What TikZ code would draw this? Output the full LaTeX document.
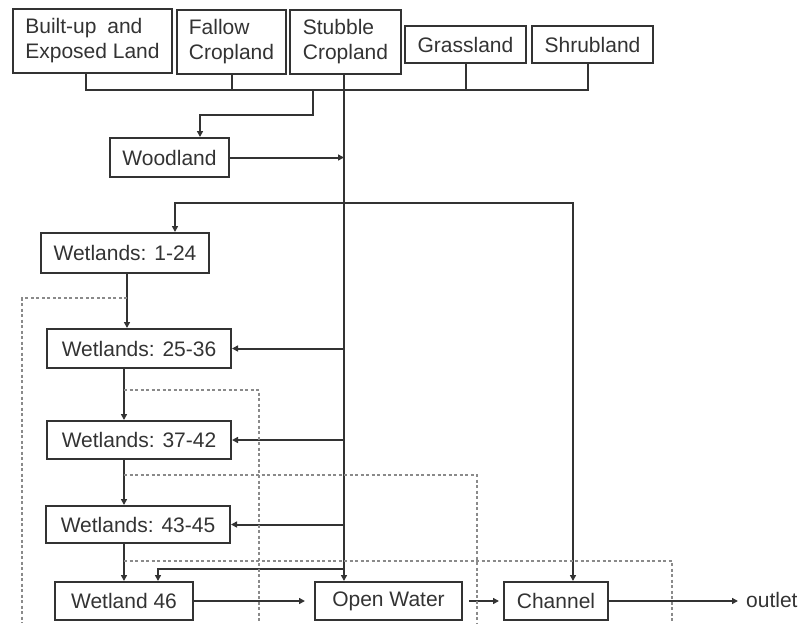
\documentclass[tikz,border=0pt]{standalone}
\usepackage{fontspec}
\setmainfont{Liberation Sans}
\usetikzlibrary{arrows.meta,calc}
\definecolor{ink}{HTML}{333333}
\definecolor{dashgray}{HTML}{8A8A8A}
\begin{document}
\begin{tikzpicture}[x=1pt,y=-1pt,
  box/.style={draw=ink, line width=2pt, text=ink, inner sep=0pt, align=left,
    font=\fontsize{21}{25}\selectfont},
  conn/.style={draw=ink, line width=2pt},
  arr/.style={conn, -{Triangle[length=6pt,width=6pt]}},
  dline/.style={draw=dashgray, line width=1.2pt, dash pattern=on 3pt off 2.5pt}]
\useasboundingbox (0,0) rectangle (801,625);
% nodes
\node[box, minimum width=159pt, minimum height=64pt] (built) at (92.5,41) {Built-up\hspace{5pt} and\\Exposed Land};
\node[box, minimum width=109pt, minimum height=64pt] (fallow) at (231.5,42) {Fallow\\Cropland};
\node[box, minimum width=111pt, minimum height=64pt] (stubble) at (345.5,42) {Stubble\\Cropland};
\node[box, minimum width=121pt, minimum height=37pt] (grass) at (465.5,44.5) {Grassland};
\node[box, minimum width=121pt, minimum height=37pt] (shrub) at (592.5,44.5) {Shrubland};
\node[box, minimum width=119pt, minimum height=39pt] (woodland) at (169.5,157.5) {Woodland};
\node[box, minimum width=168pt, minimum height=40pt] (w1) at (125,253) {Wetlands: 1-24};
\node[box, minimum width=184pt, minimum height=39pt] (w2) at (139,348.5) {Wetlands: 25-36};
\node[box, minimum width=184pt, minimum height=38pt] (w3) at (139,440) {Wetlands: 37-42};
\node[box, minimum width=184pt, minimum height=37pt] (w4) at (138,524.5) {Wetlands: 43-45};
\node[box, minimum width=138pt, minimum height=38pt] (w46) at (124,601) {Wetland 46};
\node[box, minimum width=147pt, minimum height=38pt] (ow) at (388.5,601) {Open Water};
\node[box, minimum width=104pt, minimum height=38pt] (ch) at (556,601) {Channel};
\node[text=ink, inner sep=2pt, anchor=west, font=\fontsize{21}{25}\selectfont] (outlet) at (744,600) {outlet};
% helper coordinates
\coordinate (xs) at (344,0);
\coordinate (xwd) at (200,0);
\coordinate (xw1) at (175,0);
\coordinate (xch) at (573,0);
\coordinate (xa) at (127,0);
\coordinate (xb) at (124,0);
\coordinate (x46) at (158,0);
\coordinate (busL) at (86,90);
\coordinate (busR) at (588,90);
\coordinate (wj) at (313,90);
\coordinate (j2) at (344,203);
\coordinate (j3) at (344,569);
% bus
\draw[conn] (built.south -| busL) -- (busL) -- (busR) -- (shrub.south -| busR);
\draw[conn] (fallow.south) -- (fallow.south |- busL);
\draw[conn] (grass.south) -- (grass.south |- busL);
% stubble trunk
\draw[arr] (stubble.south -| xs) -- (ow.north -| xs);
% woodland
\draw[arr] (wj) -- ++(0,25) -| (woodland.north -| xwd);
\draw[arr] (woodland.east) -- (woodland.east -| xs);
% distribution line
\draw[arr] (j2) -| (w1.north -| xw1);
\draw[arr] (j2) -| (ch.north -| xch);
% wetland chain
\draw[arr] (w1.south -| xa) -- (w2.north -| xa);
\draw[arr] (w2.south -| xb) -- (w3.north -| xb);
\draw[arr] (w3.south -| xb) -- (w4.north -| xb);
\draw[arr] (w4.south -| xb) -- (w46.north -| xb);
% side feeds
\draw[arr] (w2.east -| xs) -- (w2.east);
\draw[arr] (w3.east -| xs) -- (w3.east);
\draw[arr] (w4.east -| xs) -- (w4.east);
\draw[arr] (j3) -| (w46.north -| x46);
% bottom row
\draw[arr, shorten >=9pt] (w46.east) -- (ow.west);
\draw[arr, shorten <=6pt, shorten >=4pt] (ow.east) -- (ch.west);
\draw[arr, shorten >=6pt] (ch.east) -- (ch.east -| outlet.west);
% dashed bypasses
\draw[dline] (127,298) -| (22,623);
\draw[dline] (124,390) -| (259,623);
\draw[dline] (124,475) -| (477,623);
\draw[dline] (124,561) -| (672,623);
\end{tikzpicture}
\end{document}
